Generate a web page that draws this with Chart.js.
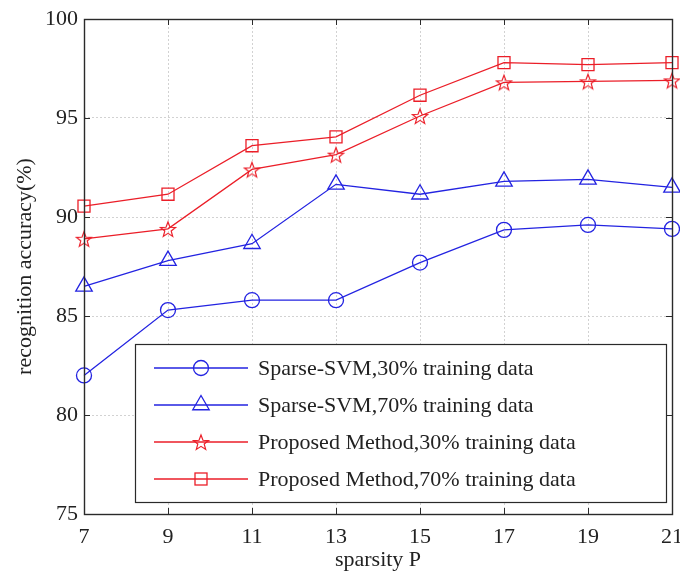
<!DOCTYPE html>
<html>
<head>
<meta charset="utf-8">
<script src="https://cdn.jsdelivr.net/npm/chart.js@4.4.1/dist/chart.umd.min.js"></script>
<style>
  html, body { margin: 0; padding: 0; background: #fff; }
  #wrap { width: 680px; height: 575px; }
</style>
</head>
<body>
<div id="wrap"><canvas id="myChart"></canvas></div>
<script>
// data
const sparsity = [7, 9, 11, 13, 15, 17, 19, 21];
const svm30  = [82.0, 85.3, 85.8, 85.8, 87.7, 89.35, 89.6, 89.4];
const svm70  = [86.5, 87.8, 88.65, 91.65, 91.15, 91.8, 91.9, 91.5];
const prop30 = [88.9, 89.4, 92.4, 93.15, 95.1, 96.8, 96.85, 96.9];
const prop70 = [90.55, 91.15, 93.6, 94.05, 96.15, 97.8, 97.7, 97.8];
const yTicks = [75, 80, 85, 90, 95, 100];
const seriesNames = [
  'Sparse-SVM,30% training data',
  'Sparse-SVM,70% training data',
  'Proposed Method,30% training data',
  'Proposed Method,70% training data'
];

const BLUE = 'rgb(35,35,225)';
const RED = 'rgb(235,30,40)';
const FONT = "'Liberation Serif', 'Times New Roman', serif";
const TXT = '#222';
const FS = 22;

// five-pointed star marker (pentagram)
function makeStar(color, R) {
  const c = document.createElement('canvas');
  const s = Math.ceil(R * 2 + 4);
  c.width = s; c.height = s;
  const g = c.getContext('2d');
  g.strokeStyle = color;
  g.lineWidth = 1.2;
  g.beginPath();
  for (let i = 0; i < 10; i++) {
    const r = i % 2 ? R * 0.42 : R;
    const a = -Math.PI / 2 + i * Math.PI / 5;
    const px = s / 2 + r * Math.cos(a), py = s / 2 + 1 + r * Math.sin(a);
    if (i === 0) g.moveTo(px, py); else g.lineTo(px, py);
  }
  g.closePath();
  g.stroke();
  return c;
}
const starImg = makeStar(RED, 8);

function pts(vals) {
  return sparsity.map((x, i) => ({ x: x, y: vals[i] }));
}

function series(label, vals, color, style, radius) {
  return {
    label: label,
    data: pts(vals),
    borderColor: color,
    borderWidth: 1.3,
    pointStyle: style,
    pointRadius: radius,
    pointHoverRadius: radius,
    pointBorderColor: color,
    pointBorderWidth: 1.3,
    pointBackgroundColor: 'rgba(0,0,0,0)',
    tension: 0,
    clip: false
  };
}

const noPad = () => ({ left: 0, right: 0, top: 0, bottom: 0 });

// inward ticks, axes box and the boxed legend
const framePlugin = {
  id: 'frame',
  afterDraw(chart) {
    const { ctx, chartArea: a, scales } = chart;
    ctx.save();
    ctx.strokeStyle = '#2a2a2a';
    ctx.lineWidth = 1;
    ctx.beginPath();
    const tl = 6;
    yTicks.forEach(v => {
      const y = Math.round(scales.y.getPixelForValue(v)) + 0.5;
      ctx.moveTo(a.left, y); ctx.lineTo(a.left + tl, y);
      ctx.moveTo(a.right, y); ctx.lineTo(a.right - tl, y);
    });
    sparsity.forEach(v => {
      const x = Math.round(scales.x.getPixelForValue(v)) + 0.5;
      ctx.moveTo(x, a.bottom); ctx.lineTo(x, a.bottom - tl);
      ctx.moveTo(x, a.top); ctx.lineTo(x, a.top + tl);
    });
    ctx.stroke();
    ctx.lineWidth = 1.4;
    ctx.strokeRect(Math.round(a.left) + 0.5, Math.round(a.top) + 0.5,
      Math.round(a.right - a.left), Math.round(a.bottom - a.top));

    // legend
    const bx = 135.5, by = 344.5, bw = 531, bh = 158;
    ctx.fillStyle = '#fff';
    ctx.fillRect(bx, by, bw, bh);
    ctx.lineWidth = 1.2;
    ctx.strokeStyle = '#2a2a2a';
    ctx.strokeRect(bx, by, bw, bh);
    const rows = [368, 405, 442, 479];
    chart.data.datasets.forEach((ds, i) => {
      const y = rows[i];
      ctx.strokeStyle = ds.borderColor;
      ctx.lineWidth = 1.3;
      ctx.beginPath();
      ctx.moveTo(154, y); ctx.lineTo(248, y);
      ctx.stroke();
      const mx = 201;
      ctx.beginPath();
      if (ds.pointStyle === 'circle') {
        ctx.arc(mx, y, 7.5, 0, Math.PI * 2);
        ctx.stroke();
      } else if (ds.pointStyle === 'triangle') {
        const r = 9.5;
        ctx.moveTo(mx, y - r);
        ctx.lineTo(mx + r * Math.sin(Math.PI * 2 / 3), y - r * Math.cos(Math.PI * 2 / 3));
        ctx.lineTo(mx + r * Math.sin(Math.PI * 4 / 3), y - r * Math.cos(Math.PI * 4 / 3));
        ctx.closePath();
        ctx.stroke();
      } else if (ds.pointStyle === 'rect') {
        ctx.strokeRect(mx - 6, y - 6, 12, 12);
      } else {
        ctx.drawImage(ds.pointStyle, mx - ds.pointStyle.width / 2, y - ds.pointStyle.height / 2);
      }
      ctx.fillStyle = TXT;
      ctx.font = FS + 'px ' + FONT;
      ctx.textBaseline = 'middle';
      ctx.textAlign = 'left';
      ctx.fillText(ds.label, 258, y + 1);
    });
    ctx.restore();
  }
};

const ctx = document.getElementById('myChart').getContext('2d');
const myLineChart = new Chart(ctx, {
  type: 'line',
  data: {
    datasets: [
      series(seriesNames[0], svm30, BLUE, 'circle', 7.5),
      series(seriesNames[1], svm70, BLUE, 'triangle', 9.5),
      series(seriesNames[2], prop30, RED, starImg, 8),
      series(seriesNames[3], prop70, RED, 'rect', 8.5)
    ]
  },
  options: {
    responsive: true,
    maintainAspectRatio: false,
    animation: false,
    layout: { autoPadding: false, padding: { top: 19, right: 8, left: 0, bottom: 0 } },
    plugins: {
      legend: { display: false },
      tooltip: { enabled: false }
    },
    scales: {
      x: {
        type: 'linear',
        min: 7,
        max: 21,
        afterBuildTicks(scale) {
          scale.ticks = sparsity.map(v => ({ value: v }));
        },
        afterFit(scale) {
          scale.height = 61;
          scale.paddingLeft = 0;
          scale.paddingRight = 0;
          scale.getPadding = noPad;
        },
        grid: { color: '#d2d2d2', lineWidth: 1, drawTicks: false },
        border: { display: false, dash: [2, 2] },
        ticks: { color: TXT, font: { family: FONT, size: FS }, padding: 10, maxRotation: 0, autoSkip: false },
        title: { display: true, text: 'sparsity P', color: TXT, font: { family: FONT, size: FS }, padding: { top: 0, bottom: 2 } }
      },
      y: {
        min: 75,
        max: 100,
        afterBuildTicks(scale) {
          scale.ticks = yTicks.map(v => ({ value: v }));
        },
        afterFit(scale) {
          scale.width = 84;
          scale.paddingTop = 0;
          scale.paddingBottom = 0;
          scale.getPadding = noPad;
        },
        grid: { color: '#d2d2d2', lineWidth: 1, drawTicks: false },
        border: { display: false, dash: [2, 2] },
        ticks: { color: TXT, font: { family: FONT, size: FS }, padding: 6 },
        title: { display: true, text: 'recognition accuracy(%)', color: TXT, font: { family: FONT, size: FS }, padding: { top: 12, bottom: 0 } }
      }
    }
  },
  plugins: [framePlugin]
});
</script>
</body>
</html>
